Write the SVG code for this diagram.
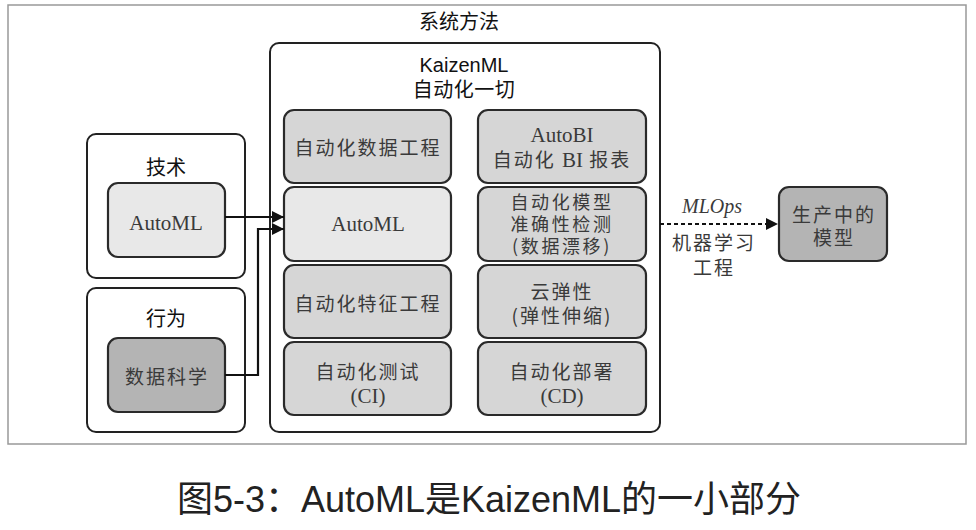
<svg xmlns="http://www.w3.org/2000/svg" width="976" height="530" viewBox="0 0 976 530">
<defs>
<marker id="arr" markerUnits="userSpaceOnUse" markerWidth="12" markerHeight="12" viewBox="0 0 12 12" refX="12" refY="6" orient="auto">
<path d="M0,0 L12,6 L0,12 Z" fill="#111"/>
</marker>
<style>
.frame{fill:#fff;stroke:#999;stroke-width:1.5}
.group{fill:#fff;stroke:#222;stroke-width:2}
.box{fill:#d6d6d6;stroke:#2a2a2a;stroke-width:2.2}
.light{fill:#e8e8e8;stroke:#2a2a2a;stroke-width:2.2}
.dark{fill:#b4b4b4;stroke:#2a2a2a;stroke-width:2.2}
.hdr{font-family:"Noto Sans CJK SC",sans-serif;font-size:20px;fill:#111;text-anchor:middle}
.hdrl{font-family:"Liberation Sans","Noto Sans CJK SC",sans-serif;font-size:20px;fill:#111;text-anchor:middle}
.t{font-family:"Noto Sans CJK SC",sans-serif;font-size:19px;fill:#3a3a3a;text-anchor:middle;letter-spacing:2px}
.t3{font-family:"Noto Sans CJK SC",sans-serif;font-size:18px;fill:#3a3a3a;text-anchor:middle;letter-spacing:2.6px}
.s{font-family:"Liberation Serif",serif;font-size:21px;fill:#3a3a3a;text-anchor:middle}
.line{fill:none;stroke:#111;stroke-width:2.2}
</style>
</defs>
<rect class="frame" x="8" y="5" width="958" height="439"/>
<text class="hdr" x="459" y="29">系统方法</text>

<g id="tech">
<rect class="group" x="87" y="134" width="158" height="144" rx="9"/>
<text class="hdr" x="166" y="175">技术</text>
</g>
<g id="tech-automl">
<rect class="light" x="108" y="183" width="117" height="74" rx="10"/>
<text class="s" x="166" y="230">AutoML</text>
</g>
<g id="behavior">
<rect class="group" x="87" y="288" width="158" height="144" rx="9"/>
<text class="hdr" x="166" y="326">行为</text>
</g>
<g id="datascience">
<rect class="dark" x="108" y="338" width="117" height="74" rx="10"/>
<text class="t" x="167" y="384">数据科学</text>
</g>

<g id="kaizenml">
<rect class="group" x="270" y="43" width="390" height="389" rx="9"/>
<text class="hdrl" x="464" y="72">KaizenML</text>
<text class="hdr" x="464" y="97" letter-spacing="0.5">自动化一切</text>
</g>

<g id="auto-data-eng">
<rect class="box" x="284" y="110" width="167" height="73" rx="10"/>
<text class="t" x="368" y="155">自动化数据工程</text>
</g>
<g id="automl">
<rect class="light" x="284" y="187" width="167" height="74" rx="10"/>
<text class="s" x="368" y="231">AutoML</text>
</g>
<g id="auto-feature-eng">
<rect class="box" x="284" y="265" width="167" height="73" rx="10"/>
<text class="t" x="368" y="311">自动化特征工程</text>
</g>
<g id="auto-test">
<rect class="box" x="284" y="342" width="167" height="73" rx="10"/>
<text class="t" x="368" y="379">自动化测试</text>
<text class="s" x="368" y="403">(CI)</text>
</g>

<g id="autobi">
<rect class="box" x="478" y="110" width="168" height="73" rx="10"/>
<text class="s" x="562" y="142">AutoBI</text>
<text class="t" x="562" y="167"><tspan>自动化 </tspan><tspan font-family="Liberation Serif,serif" font-size="21px" letter-spacing="0">BI</tspan><tspan> 报表</tspan></text>
</g>
<g id="model-accuracy">
<rect class="box" x="478" y="187" width="168" height="74" rx="10"/>
<text class="t3" x="562" y="209">自动化模型</text>
<text class="t3" x="562" y="231">准确性检测</text>
<text class="t3" x="562" y="253">(数据漂移)</text>
</g>
<g id="cloud-elastic">
<rect class="box" x="478" y="265" width="168" height="73" rx="10"/>
<text class="t" x="562" y="299">云弹性</text>
<text class="t" x="562" y="323">(弹性伸缩)</text>
</g>
<g id="auto-deploy">
<rect class="box" x="478" y="342" width="168" height="73" rx="10"/>
<text class="t" x="562" y="379">自动化部署</text>
<text class="s" x="562" y="403">(CD)</text>
</g>

<g id="prod-model">
<rect class="dark" x="779" y="187" width="108" height="74" rx="10" fill="#b0b0b0"/>
<text class="t" x="834" y="222">生产中的</text>
<text class="t" x="834" y="245">模型</text>
</g>

<g id="connectors">
<path class="line" d="M225,217 H284" marker-end="url(#arr)"/>
<path class="line" d="M225,375 H258 V229 H284" marker-end="url(#arr)"/>
<path class="line" d="M660,224 H778" stroke-dasharray="4 3" marker-end="url(#arr)"/>
<text x="712" y="213" font-family="Liberation Serif,serif" font-style="italic" font-size="20" fill="#3a3a3a" text-anchor="middle">MLOps</text>
<text class="t" x="714" y="250">机器学习</text>
<text class="t" x="714" y="275">工程</text>
</g>

<text x="489" y="512" font-family="Liberation Sans,'Noto Sans CJK SC',sans-serif" font-size="36" fill="#222" text-anchor="middle">图5-3：AutoML是KaizenML的一小部分</text>
</svg>
